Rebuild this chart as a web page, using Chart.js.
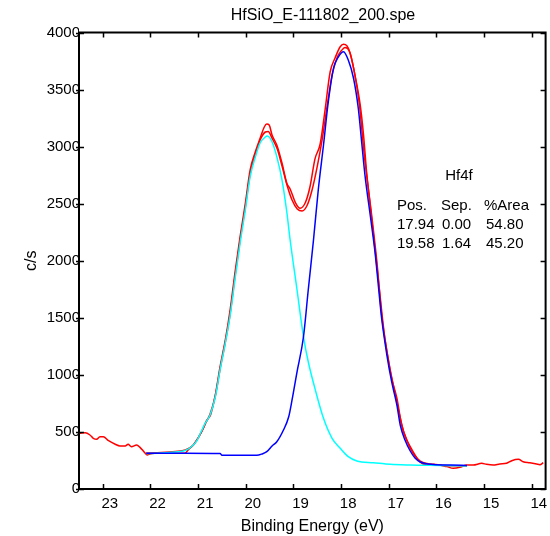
<!DOCTYPE html>
<html><head><meta charset="utf-8">
<script src="https://cdn.jsdelivr.net/npm/chart.js@4/dist/chart.umd.min.js"></script>
<style>html,body{margin:0;padding:0;background:#fff}</style>
</head><body>
<canvas id="c" width="550" height="536"></canvas>
<script>
const chartTitle = 'HfSiO_E-111802_200.spe';
const xAxisTitle = 'Binding Energy (eV)';
const yAxisTitle = 'c/s';
const xTicks = [23,22,21,20,19,18,17,16,15,14];
const yTicks = [0,500,1000,1500,2000,2500,3000,3500,4000];
const peakLabel = 'Hf4f';
const tableHeader = ['Pos.', 'Sep.', '%Area'];
const tableRows = [['17.94','0.00','54.80'],['19.58','1.64','45.20']];

// raw spectrum (red)
const rawE = [23.48,23.37,23.27,23.20,23.13,23.06,22.99,22.88,22.74,22.64,22.53,22.47,22.40,22.29,22.22,22.12,22.07,22.01,21.91,21.77,21.63,21.49,21.35,21.28,21.21,21.10,21.00,20.89,20.83,20.74,20.64,20.54,20.43,20.33,20.22,20.12,20.01,19.91,19.80,19.70,19.61,19.56,19.51,19.45,19.35,19.24,19.14,19.07,18.96,18.86,18.75,18.65,18.55,18.44,18.34,18.23,18.13,18.02,17.95,17.88,17.81,17.71,17.60,17.53,17.46,17.36,17.25,17.15,17.04,16.94,16.83,16.73,16.62,16.55,16.45,16.34,16.20,16.06,15.78,15.65,15.51,15.36,15.23,15.05,14.95,14.81,14.67,14.53,14.42,14.28,14.18,14.04,13.90,13.83,13.76];
const rawV = [488,493,473,444,435,458,458,423,392,377,377,392,371,386,365,318,298,307,313,313,313,313,313,313,342,386,447,534,596,648,824,1072,1306,1568,1919,2211,2503,2795,2955,3073,3174,3198,3189,3102,3014,2854,2679,2629,2510,2460,2510,2655,2891,3023,3312,3656,3774,3875,3896,3884,3818,3627,3365,3102,2751,2401,1992,1525,1203,970,795,561,429,371,298,235,210,216,196,182,190,210,210,225,216,210,219,225,248,260,239,230,219,213,230];

// fitted envelope (red)
const envE = [22.09,21.77,21.48,21.27,21.10,20.94,20.83,20.75,20.64,20.54,20.43,20.33,20.22,20.12,20.01,19.91,19.80,19.70,19.59,19.53,19.45,19.34,19.24,19.13,19.03,18.92,18.82,18.71,18.61,18.50,18.40,18.29,18.19,18.08,18.00,17.92,17.83,17.73,17.62,17.52,17.41,17.31,17.20,17.10,16.99,16.89,16.78,16.68,16.57,16.47,16.34,16.13,15.82,15.36];
const envV = [315,320,329,342,386,491,587,657,815,1051,1288,1533,1884,2182,2471,2760,2935,3058,3128,3133,3075,2979,2830,2655,2532,2453,2436,2489,2620,2830,3058,3365,3627,3785,3838,3868,3838,3671,3380,2950,2560,2180,1760,1380,1090,880,660,490,375,300,245,219,206,202];

// component at 19.58 eV (cyan)
const cyanE = [22.09,21.77,21.48,21.27,21.10,21.02,20.94,20.86,20.75,20.64,20.54,20.43,20.33,20.22,20.12,20.01,19.91,19.80,19.70,19.59,19.55,19.45,19.35,19.24,19.14,19.07,18.93,18.79,18.69,18.55,18.37,18.19,18.02,17.85,17.67,17.32,16.97,16.55,15.92,15.36];
const cyanV = [311,315,324,337,386,429,499,570,648,806,1043,1279,1516,1858,2155,2445,2734,2909,3032,3084,3093,3043,2912,2707,2427,2182,1759,1334,1115,882,619,444,357,283,245,230,216,210,206,202];

// component at 17.94 eV (blue)
const blueE = [22.09,21.27,20.54,20.50,19.77,19.66,19.56,19.45,19.35,19.21,19.10,19.03,18.93,18.79,18.69,18.58,18.48,18.37,18.27,18.16,18.06,17.95,17.85,17.74,17.64,17.57,17.50,17.39,17.29,17.22,17.15,17.04,16.94,16.83,16.76,16.66,16.55,16.45,16.34,16.07,15.71,15.36];
const blueV = [313,313,311,295,295,307,327,377,414,517,633,780,1016,1334,1744,2182,2620,3014,3391,3686,3785,3832,3759,3599,3336,3043,2751,2401,2079,1787,1496,1174,940,736,561,429,333,272,237,215,210,206];

const pts = (xs, ys) => xs.map((x, i) => ({x: x, y: ys[i]}));
const FONT = "'Liberation Sans', Arial, sans-serif";

const framePlugin = {
  id: 'frame',
  afterDatasetsDraw(chart) {
    const {ctx, chartArea: a, scales: {x, y}} = chart;
    ctx.save();
    ctx.strokeStyle = '#000';
    ctx.lineWidth = 1.5;
    ctx.beginPath();
    x.ticks.forEach(t => {
      const px = Math.round(x.getPixelForValue(t.value)) + 0.5;
      ctx.moveTo(px, a.bottom); ctx.lineTo(px, a.bottom - 5);
      ctx.moveTo(px, a.top); ctx.lineTo(px, a.top + 5);
    });
    y.ticks.forEach(t => {
      const py = Math.round(y.getPixelForValue(t.value)) + 0.5;
      ctx.moveTo(a.left - 3, py); ctx.lineTo(a.left + 5, py);
      ctx.moveTo(a.right, py); ctx.lineTo(a.right - 5, py);
    });
    ctx.stroke();
    ctx.lineWidth = 2;
    ctx.strokeRect(a.left, a.top, a.right - a.left, a.bottom - a.top);
    ctx.restore();
  },
  afterDraw(chart) {
    const {ctx} = chart;
    ctx.save();
    ctx.fillStyle = '#000';
    ctx.textBaseline = 'middle';
    ctx.textAlign = 'center';
    ctx.font = '16px ' + FONT;
    ctx.fillText(chartTitle, 323, 16);
    ctx.font = '15px ' + FONT;
    ctx.fillText(peakLabel, 459, 176);
    ctx.textAlign = 'left';
    const hx = [397, 441, 484];
    const vx = [397, 442, 486];
    tableHeader.forEach((s, i) => ctx.fillText(s, hx[i], 206));
    tableRows.forEach((r, j) => r.forEach((s, i) => ctx.fillText(s, vx[i], 225 + j * 19)));
    ctx.restore();
  }
};

Chart.defaults.color = '#000';
Chart.defaults.font.family = FONT;

new Chart(document.getElementById('c'), {
  type: 'scatter',
  data: {
    datasets: [
      {label: 'Hf4f 17.94', data: pts(blueE, blueV), borderColor: '#0000ff', order: 0},
      {label: 'Hf4f 19.58', data: pts(cyanE, cyanV), borderColor: '#00ffff', order: 1},
      {label: 'Envelope', data: pts(envE, envV), borderColor: '#ff0000', order: 2},
      {label: 'Data', data: pts(rawE, rawV), borderColor: '#ff0000', order: 3}
    ].map(d => Object.assign(d, {showLine: true, pointRadius: 0, borderWidth: 1.5, fill: false, cubicInterpolationMode: 'monotone'}))
  },
  options: {
    responsive: false,
    animation: false,
    devicePixelRatio: 1,
    layout: {padding: {top: 32.5, right: 4.4, left: 0, bottom: 0}},
    plugins: {legend: {display: false}, tooltip: {enabled: false}, title: {display: false}},
    scales: {
      x: {
        type: 'linear', reverse: true, min: 13.71, max: 23.5,
        afterBuildTicks: s => { s.ticks = xTicks.map(v => ({value: v})); },
        afterFit: s => { s.height = 47; },
        grid: {display: false, drawTicks: false},
        border: {display: false},
        ticks: {font: {size: 15}, padding: 6, labelOffset: 7, maxRotation: 0, autoSkip: false, callback: v => String(v)},
        title: {display: true, text: xAxisTitle, font: {size: 16}, padding: {top: 0, bottom: 0}}
      },
      y: {
        type: 'linear', min: 0, max: 4000,
        afterBuildTicks: s => { s.ticks = yTicks.map(v => ({value: v})); },
        afterFit: s => { s.width = 79; },
        grid: {display: false, drawTicks: false},
        border: {display: false},
        ticks: {font: {size: 15}, padding: -1, autoSkip: false, callback: v => String(v)},
        title: {display: true, text: yAxisTitle, font: {size: 16}, padding: {top: 22, bottom: 0}}
      }
    }
  },
  plugins: [framePlugin]
});
</script>
</body></html>
